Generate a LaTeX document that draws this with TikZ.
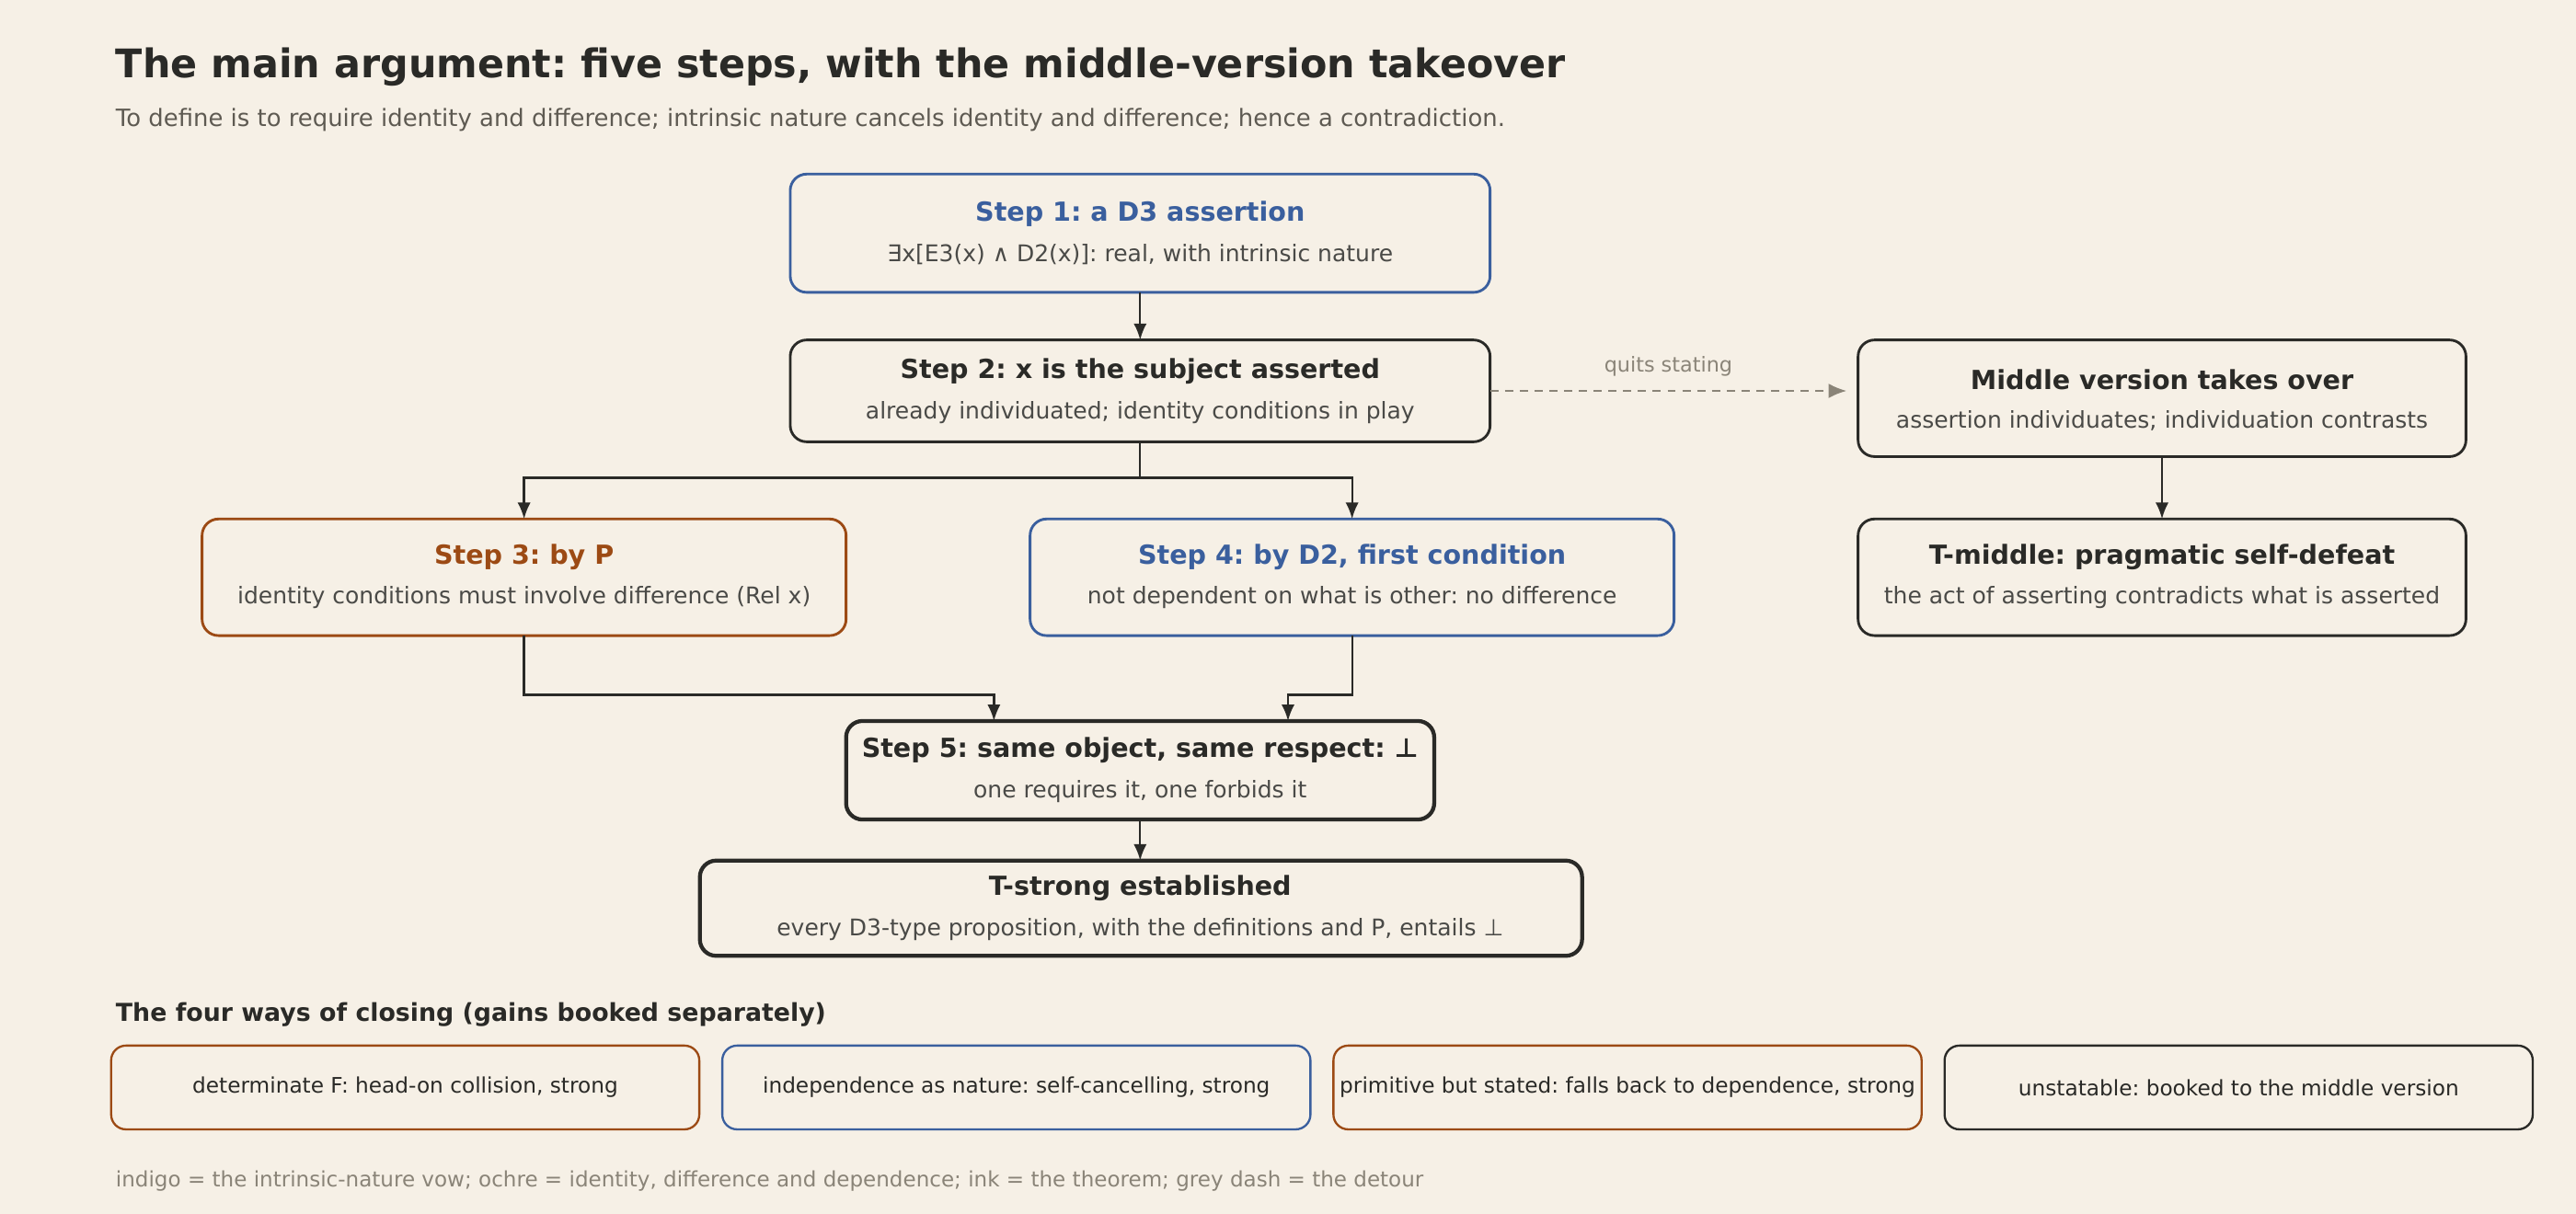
\documentclass[tikz,border=0pt]{standalone}
\usepackage{fontspec}
\setmainfont{DejaVu Sans}
\frenchspacing
\usetikzlibrary{arrows.meta,positioning}
\definecolor{paper}{HTML}{F6F0E6}
\definecolor{indigo}{HTML}{3A5F9E}
\definecolor{ochre}{HTML}{9C4A14}
\definecolor{ink}{HTML}{2A2A27}
\definecolor{dash}{HTML}{8A8478}
\definecolor{muted}{HTML}{5E5A52}
\tikzset{
  Box/.style = {draw=ink, rounded corners=10pt, line width=1.6pt, inner sep=0pt},
  Way/.style = {draw=ink, rounded corners=9pt, line width=1.3pt, minimum height=51pt, minimum width=358pt, font=\fontsize{13}{15}\selectfont, text=ink},
  Head/.style = {font=\bfseries\fontsize{16}{19}\selectfont, text=ink},
  Sub/.style = {font=\fontsize{14}{17}\selectfont, text=ink!85},
  Flow/.style = {draw=ink, line width=1.3pt, -{Latex[length=10pt,width=8pt]}},
}
\begin{document}
\begin{tikzpicture}[x=1pt,y=-1pt]
  \fill[paper] (0,0) rectangle (1568,739);
  \node[anchor=west, font=\bfseries\fontsize{24}{28}\selectfont, text=ink] (title) at (67,41) {The main argument: five steps, with the middle-version takeover};
  \node[anchor=west, font=\fontsize{14.5}{17}\selectfont, text=muted] (subtitle) at (67,73) {To define is to require identity and difference; intrinsic nature cancels identity and difference; hence a contradiction.};

  % the chain of steps
  \draw[Box, draw=indigo] (481,106) rectangle (907,178);
  \node[Head, text=indigo] (s1t) at (694,130) {Step 1: a D3 assertion};
  \node[Sub] (s1b) at (694,155) {∃x[E3(x) ∧ D2(x)]: real, with intrinsic nature};
  \coordinate (s1) at (694,178);

  \draw[Box] (481,207) rectangle (907,269);
  \node[Head] (s2t) at (694,226) {Step 2: x is the subject asserted};
  \node[Sub] (s2b) at (694,251) {already individuated; identity conditions in play};
  \coordinate (s2in) at (694,207);
  \coordinate (s2) at (694,269);
  \coordinate (s2r) at (907,238);

  \draw[Box, draw=ochre] (123,316) rectangle (515,387);
  \node[Head, text=ochre] (s3t) at (319,339) {Step 3: by P};
  \node[Sub] (s3b) at (319,364) {identity conditions must involve difference (Rel x)};
  \coordinate (s3in) at (319,316);
  \coordinate (s3) at (319,387);

  \draw[Box, draw=indigo] (627,316) rectangle (1019,387);
  \node[Head, text=indigo] (s4t) at (823,339) {Step 4: by D2, first condition};
  \node[Sub] (s4b) at (823,364) {not dependent on what is other: no difference};
  \coordinate (s4in) at (823,316);
  \coordinate (s4) at (823,387);

  \draw[Box, line width=2.4pt] (515,439) rectangle (873,499);
  \node[Head] (s5t) at (694,457) {Step 5: same object, same respect: ⊥};
  \node[Sub] (s5b) at (694,482) {one requires it, one forbids it};
  \coordinate (s5a) at (605,439);
  \coordinate (s5b') at (784,439);
  \coordinate (s5) at (694,499);

  \draw[Box, line width=2.4pt] (426,524) rectangle (963,582);
  \node[Head] (tst) at (694,541) {T-strong established};
  \node[Sub] (tsb) at (694,566) {every D3-type proposition, with the definitions and P, entails ⊥};
  \coordinate (ts) at (694,524);

  % the detour
  \draw[Box] (1131,207) rectangle (1501,278);
  \node[Head] (mvt) at (1316,231) {Middle version takes over};
  \node[Sub] (mvb) at (1316,256) {assertion individuates; individuation contrasts};
  \coordinate (mvl) at (1124,238);
  \coordinate (mv) at (1316,278);

  \draw[Box] (1131,316) rectangle (1501,387);
  \node[Head] (tmt) at (1316,339) {T-middle: pragmatic self-defeat};
  \node[Sub] (tmb) at (1316,364) {the act of asserting contradicts what is asserted};
  \coordinate (tm) at (1316,316);

  \draw[Flow] (s1) -- (s2in);
  \draw[Flow] (s2) -- (694,291) -| (s3in);
  \draw[Flow] (s2) -- (694,291) -| (s4in);
  \draw[Flow] (s3) |- (605,423) -- (s5a);
  \draw[Flow] (s4) |- (784,423) -- (s5b');
  \draw[Flow] (s5) -- (ts);
  \draw[Flow] (mv) -- (tm);
  \draw[Flow, draw=dash, dashed, dash pattern=on 5pt off 4pt, -{Latex[length=11pt,width=9pt]}] (s2r) -- (mvl)
    node[midway, above=5pt, font=\fontsize{12.5}{15}\selectfont, text=dash] (quits) {quits stating};

  % the four ways of closing
  \node[anchor=west, font=\bfseries\fontsize{15}{18}\selectfont, text=ink] (ways) at (67,618) {The four ways of closing (gains booked separately)};
  \node[Way, draw=ochre, anchor=north west] (w1) at (67,636) {determinate F: head-on collision, strong};
  \node[Way, draw=indigo, anchor=north west] (w2) at (439,636) {independence as nature: self-cancelling, strong};
  \node[Way, draw=ochre, anchor=north west] (w3) at (811,636) {primitive but stated: falls back to dependence, strong};
  \node[Way, anchor=north west] (w4) at (1183,636) {unstatable: booked to the middle version};

  \node[anchor=west, font=\fontsize{12.9}{15}\selectfont, text=dash] (legend) at (67,719) {indigo = the intrinsic-nature vow; ochre = identity, difference and dependence; ink = the theorem; grey dash = the detour};
\end{tikzpicture}
\end{document}
